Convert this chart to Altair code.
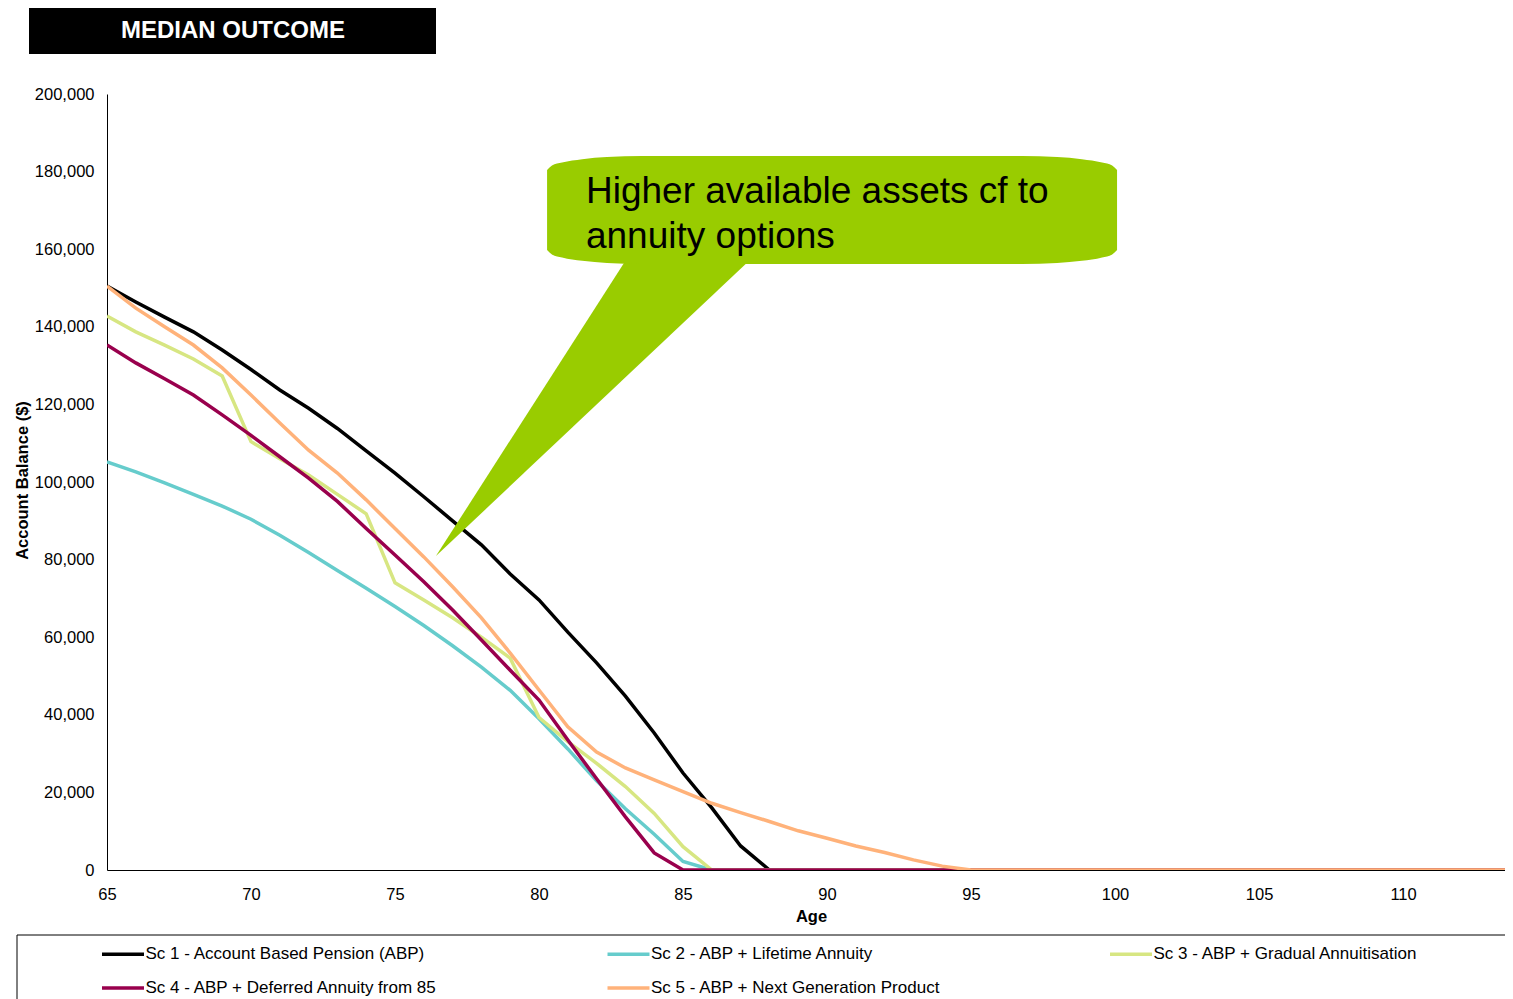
import altair as alt
import pandas as pd

FONT = "Liberation Sans, Arial, sans-serif"

ages = list(range(65, 115))

series_names = [
    "Sc 1 - Account Based Pension (ABP)",
    "Sc 2 - ABP + Lifetime Annuity",
    "Sc 3 - ABP + Gradual Annuitisation",
    "Sc 4 - ABP + Deferred Annuity from 85",
    "Sc 5 - ABP + Next Generation Product",
]
series_colors = ["#000000", "#66CCCC", "#D7E682", "#99004D", "#FFB27A"]

sc1 = [150500, 146400, 142500, 138700, 134000, 129000, 123700, 119000, 113800, 108000,
       102300, 96200, 90000, 83800, 76300, 69600, 61300, 53400, 44800, 35300,
       25000, 16000, 6200, 0, 0, 0, 0, 0, 0, 0,
       0, 0, 0, 0, 0, 0, 0, 0, 0, 0,
       0, 0, 0, 0, 0, 0, 0, 0, 0, 0]
sc2 = [105200, 102600, 99800, 96800, 93800, 90400, 86300, 81800, 77200, 72600,
       67900, 63000, 57800, 52300, 46300, 39000, 31200, 23000, 15800, 9200,
       2200, 0, 0, 0, 0, 0, 0, 0, 0, 0,
       0, 0, 0, 0, 0, 0, 0, 0, 0, 0,
       0, 0, 0, 0, 0, 0, 0, 0, 0, 0]
sc3 = [142800, 138700, 135300, 131700, 127300, 110400, 106000, 101800, 96800, 91800,
       74000, 69600, 65000, 60000, 54600, 39300, 33100, 27500, 21500, 14600,
       6000, 0, 0, 0, 0, 0, 0, 0, 0, 0,
       0, 0, 0, 0, 0, 0, 0, 0, 0, 0,
       0, 0, 0, 0, 0, 0, 0, 0, 0, 0]
sc4 = [135300, 130700, 126600, 122400, 117300, 112000, 106500, 101000, 95000, 88000,
       81200, 74300, 67000, 59300, 51500, 43800, 33500, 23500, 13700, 4400,
       0, 0, 0, 0, 0, 0, 0, 0, 0, 0,
       0, 0, 0, 0, 0, 0, 0, 0, 0, 0,
       0, 0, 0, 0, 0, 0, 0, 0, 0, 0]
sc5 = [150500, 144800, 140000, 135300, 129400, 122400, 115200, 108200, 102300, 95400,
       88000, 80700, 73000, 65000, 55900, 46400, 36900, 30400, 26300, 23200,
       20200, 17200, 14800, 12500, 10100, 8200, 6200, 4500, 2600, 1000,
       0, 0, 0, 0, 0, 0, 0, 0, 0, 0,
       0, 0, 0, 0, 0, 0, 0, 0, 0, 0]

x_ticks = [65, 70, 75, 80, 85, 90, 95, 100, 105, 110]
y_ticks = [0, 20000, 40000, 60000, 80000, 100000, 120000, 140000, 160000, 180000, 200000]

# callout balloon outline (data coordinates): age, top and bottom balance
balloon_age = [80.28, 80.45, 80.80, 81.50, 82.36, 83.58,
               96.77, 97.99, 98.85, 99.55, 99.90, 100.07]
balloon_top = [180390, 181550, 182350, 183200, 183740, 184000,
               184000, 183740, 183200, 182350, 181550, 180390]
balloon_bottom = [159810, 158650, 157850, 157000, 156460, 156200,
                  156200, 156460, 157000, 157850, 158650, 159810]
# callout pointer (triangle): balance, left edge age, right edge age
pointer_bal = [80900, 157500]
pointer_left = [76.42, 83.04]
pointer_right = [76.42, 87.36]
callout_text = ["Higher available assets cf to", "annuity options"]
callout_text_pos = [81.63, 171900]

rows = []
for name, vals in zip(series_names, [sc1, sc2, sc3, sc4, sc5]):
    for a, v in zip(ages, vals):
        rows.append({"age": a, "balance": v, "series": name})
df = pd.DataFrame(rows)

xscale = alt.Scale(domain=[65, 113.54], nice=False, zero=False)
yscale = alt.Scale(domain=[0, 200000], nice=False)

lines = alt.Chart(df).mark_line(strokeWidth=3.5, clip=True).encode(
    x=alt.X("age:Q", scale=xscale,
            axis=alt.Axis(values=x_ticks, title="Age", ticks=False, labelPadding=24,
                          labelBaseline="middle", labelFlush=False, titleY=46, titleX=704,
                          titleBaseline="middle", format="d")),
    y=alt.Y("balance:Q", scale=yscale,
            axis=alt.Axis(values=y_ticks, title="Account Balance ($)", ticks=False,
                          labelPadding=13, format=",d", titleX=-85, titleY=386,
                          titleBaseline="middle", titleAlign="center")),
    color=alt.Color("series:N",
                    scale=alt.Scale(domain=series_names, range=series_colors),
                    legend=alt.Legend(orient="none", legendX=5.5, legendY=849.5,
                                      direction="horizontal",
                                      columns=3, title=None, padding=0,
                                      symbolType="M-2.47,0H2.47", symbolSize=289,
                                      symbolStrokeWidth=3.5, labelOffset=12,
                                      columnPadding=161.5, rowPadding=15,
                                      labelFontSize=17, labelFont=FONT,
                                      labelLimit=500, labelColor="black")),
)

ptr_df = pd.DataFrame({"b": pointer_bal, "l": pointer_left, "r": pointer_right})
pointer = alt.Chart(ptr_df).mark_area(orient="horizontal", color="#99CC00").encode(
    y=alt.Y("b:Q", scale=yscale),
    x=alt.X("l:Q", scale=xscale),
    x2="r:Q",
)

bal_df = pd.DataFrame({"a": balloon_age, "t": balloon_top, "b": balloon_bottom})
balloon = alt.Chart(bal_df).mark_area(color="#99CC00", interpolate="monotone").encode(
    x=alt.X("a:Q", scale=xscale),
    y=alt.Y("t:Q", scale=yscale),
    y2="b:Q",
)

txt_df = pd.DataFrame({"tx": [callout_text_pos[0]], "ty": [callout_text_pos[1]]})
ctext = alt.Chart(txt_df).mark_text(
    text=callout_text, align="left", baseline="alphabetic", fontSize=37,
    lineHeight=45, font=FONT, color="black"
).encode(
    x=alt.X("tx:Q", scale=xscale),
    y=alt.Y("ty:Q", scale=yscale),
)

one = pd.DataFrame({"k": [0]})
title_box = alt.Chart(one).mark_rect(color="black").encode(
    x=alt.value(-78), x2=alt.value(329), y=alt.value(-88), y2=alt.value(-40)
)
title_text = alt.Chart(one).mark_text(
    text="MEDIAN OUTCOME", font=FONT, fontSize=24, fontWeight="bold", color="white",
    align="center", baseline="middle"
).encode(x=alt.value(126), y=alt.value(-63))

legend_frame = alt.Chart(one).mark_rect(filled=False, stroke="black", strokeWidth=1).encode(
    x=alt.value(-90), x2=alt.value(1500), y=alt.value(841), y2=alt.value(960)
)

chart = alt.layer(
    lines, pointer, balloon, ctext, title_box, title_text, legend_frame
).properties(
    width=1398, height=776,
    autosize=alt.AutoSizeParams(type="none"),
    padding={"left": 99, "top": 86, "right": 0, "bottom": 129},
).configure_view(
    stroke=None
).configure_axis(
    domainColor="black", domainWidth=1, grid=False,
    labelFont=FONT, labelFontSize=16.5, labelColor="black",
    titleFont=FONT, titleFontSize=16.5, titleFontWeight="bold", titleColor="black",
)

chart.save("out.html", embed_options={"renderer": "svg", "actions": False})
